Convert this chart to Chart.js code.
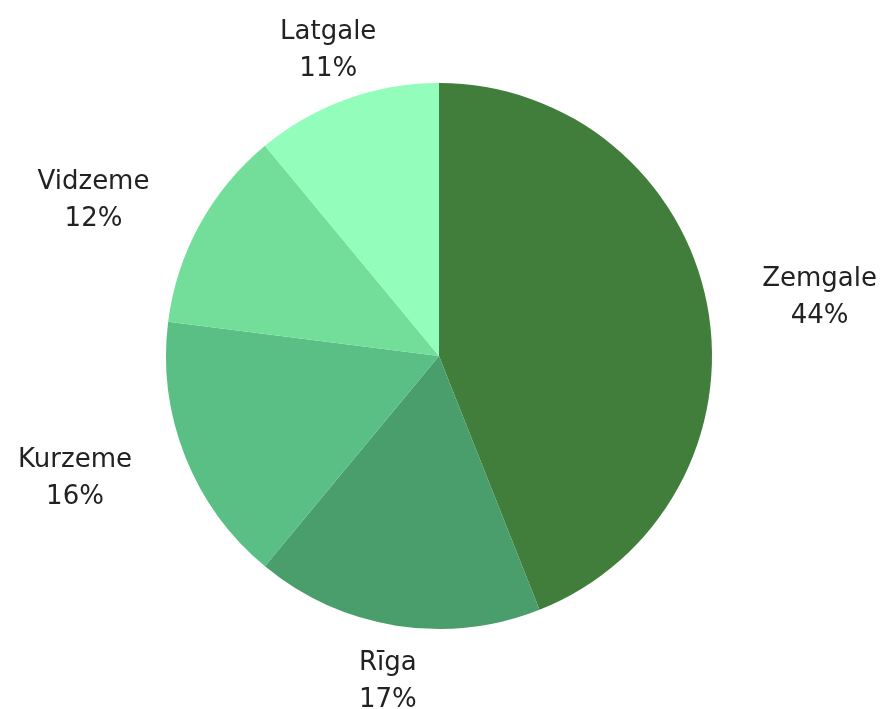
<!DOCTYPE html>
<html>
<head>
<meta charset="utf-8">
<script src="https://cdn.jsdelivr.net/npm/chart.js@4"></script>
<style>
  html, body { margin: 0; padding: 0; background: #fff; }
  #wrap { width: 882px; height: 709px; position: relative; }
</style>
</head>
<body>
<div id="wrap"><canvas id="pie"></canvas></div>
<script>
const regions = ['Zemgale', 'Rīga', 'Kurzeme', 'Vidzeme', 'Latgale'];
const shares = [44, 17, 16, 12, 11];
const sliceColors = ['#417e3c', '#4a9e6b', '#5abf85', '#72de9a', '#93fdbb'];

// labels outside the pie: name on one line, percent centred under it
const outsideLabels = {
    id: 'outsideLabels',
    afterDraw(chart) {
        const ctx = chart.ctx;
        const meta = chart.getDatasetMeta(0);
        ctx.save();
        ctx.font = '26px "DejaVu Sans"';
        ctx.fillStyle = '#222';
        ctx.textBaseline = 'alphabetic';
        ctx.textAlign = 'center';
        meta.data.forEach((arc, i) => {
            const p = arc.getProps(['x', 'y', 'startAngle', 'endAngle', 'outerRadius'], true);
            const mid = (p.startAngle + p.endAngle) / 2;
            const dx = Math.cos(mid), dy = Math.sin(mid);
            const r = p.outerRadius + 54;
            const ax = p.x + dx * r;
            const ay = p.y + dy * r;
            const pct = shares[i] + '%';
            const w = Math.max(ctx.measureText(regions[i]).width, ctx.measureText(pct).width);
            // side labels hang off the anchor, top/bottom ones sit centred on it
            let cx = ax;
            if (dx > 0.7) cx = ax + 2 + w / 2;
            else if (dx < -0.7) cx = ax - 3 - w / 2;
            ctx.fillText(regions[i], cx, ay - 9);
            ctx.fillText(pct, cx, ay + 28);
        });
        ctx.restore();
    }
};

new Chart(document.getElementById('pie'), {
    type: 'pie',
    data: {
        labels: regions,
        datasets: [{
            data: shares,
            backgroundColor: sliceColors,
            borderWidth: 0
        }]
    },
    options: {
        responsive: true,
        maintainAspectRatio: false,
        animation: false,
        layout: { padding: { top: 83, bottom: 80, left: 166, right: 170 } },
        plugins: {
            legend: { display: false },
            tooltip: { enabled: false }
        }
    },
    plugins: [outsideLabels]
});
</script>
</body>
</html>
